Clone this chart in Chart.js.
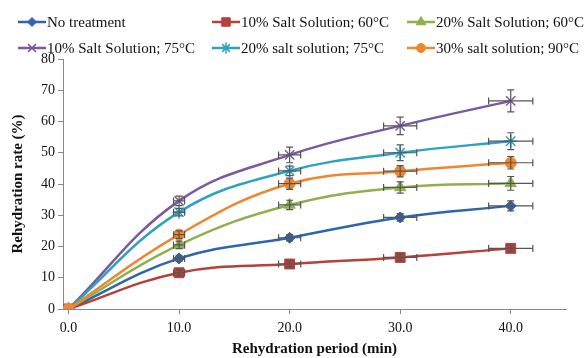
<!DOCTYPE html>
<html>
<head>
<meta charset="utf-8">
<script src="https://cdn.jsdelivr.net/npm/chart.js@4"></script>
<style>
  body { margin: 0; background: #fff; }
  #wrap { width: 588px; height: 358px; }
</style>
</head>
<body>
<div id="wrap"><canvas id="chart" width="588" height="358"></canvas></div>
<script>
// data
const periods = [0, 10, 20, 30, 40];
const xTicks = [0, 10, 20, 30, 40];
const seriesNames = [
    'No treatment',
    '10% Salt Solution; 60°C',
    '20% Salt Solution; 60°C',
    '10% Salt Solution; 75°C',
    '20% salt solution; 75°C',
    '30% salt solution; 90°C'
];
const noTreatment = [0, 16.2, 22.8, 29.3, 33.0];
const salt10at60 = [0, 11.6, 14.4, 16.5, 19.4];
const salt20at60 = [0, 20.5, 33.3, 38.9, 40.2];
const salt10at75 = [0, 34.6, 49.3, 58.6, 66.6];
const salt20at75 = [0, 31.0, 44.2, 50.0, 53.7];
const salt30at90 = [0, 23.8, 40.1, 44.1, 46.8];

// error bars (vertical on rate, horizontal on period)
const xErr = [0, 0.5, 1.0, 1.5, 2.0];
const yErrNoTreatment = [0, 1.0, 1.0, 1.2, 1.6];
const yErrSalt10at60 = [0, 1.0, 1.0, 1.0, 1.0];
const yErrSalt20at60 = [0, 1.2, 1.5, 1.8, 2.2];
const yErrSalt10at75 = [0, 1.5, 2.5, 2.8, 3.5];
const yErrSalt20at75 = [0, 1.2, 1.5, 2.5, 2.7];
const yErrSalt30at90 = [0, 1.2, 1.8, 1.8, 2.0];

const app = {};

app.colors = ['#2f65ad', '#b6403a', '#8fb04a', '#7a5a9e', '#2fa2c0', '#f0872f'];
app.markers = ['rectRot', 'rect', 'triangle', 'crossRot', 'star', 'circle'];
app.markerSizes = [5.5, 7, 6.5, 6.5, 6.5, 5.5];
app.values = [noTreatment, salt10at60, salt20at60, salt10at75, salt20at75, salt30at90];
app.yErrors = [yErrNoTreatment, yErrSalt10at60, yErrSalt20at60, yErrSalt10at75, yErrSalt20at75, yErrSalt30at90];
app.font = "'Liberation Serif', 'Times New Roman', serif";

app.datasets = app.values.map((vals, i) => ({
    label: seriesNames[i],
    data: vals.map((v, j) => ({ x: periods[j], y: v })),
    yErr: app.yErrors[i],
    borderColor: app.colors[i],
    backgroundColor: app.colors[i],
    borderWidth: 2.5,
    pointStyle: app.markers[i],
    pointRadius: app.markerSizes[i],
    pointBorderWidth: (app.markers[i] === 'crossRot' || app.markers[i] === 'star') ? 1.5 : 1,
    tension: 0.4,
    fill: false,
    order: 5 - i
}));

// error bars drawn with the chart's scales
app.errorBars = {
    id: 'errorBars',
    afterDatasetsDraw(chart) {
        const ctx = chart.ctx;
        const xs = chart.scales.x;
        const ys = chart.scales.y;
        ctx.save();
        ctx.strokeStyle = '#555';
        ctx.lineWidth = 1.2;
        chart.data.datasets.forEach((ds) => {
            ds.data.forEach((p, j) => {
                const cx = xs.getPixelForValue(p.x);
                const cy = ys.getPixelForValue(p.y);
                const ex = xErr[j];
                const ey = ds.yErr[j];
                if (ey > 0) {
                    const top = ys.getPixelForValue(p.y + ey);
                    const bot = ys.getPixelForValue(p.y - ey);
                    ctx.beginPath();
                    ctx.moveTo(cx, top); ctx.lineTo(cx, bot);
                    ctx.moveTo(cx - 3.5, top); ctx.lineTo(cx + 3.5, top);
                    ctx.moveTo(cx - 3.5, bot); ctx.lineTo(cx + 3.5, bot);
                    ctx.stroke();
                }
                if (ex > 0) {
                    const l = xs.getPixelForValue(p.x - ex);
                    const r = xs.getPixelForValue(p.x + ex);
                    ctx.beginPath();
                    ctx.moveTo(l, cy); ctx.lineTo(r, cy);
                    ctx.moveTo(l, cy - 3.5); ctx.lineTo(l, cy + 3.5);
                    ctx.moveTo(r, cy - 3.5); ctx.lineTo(r, cy + 3.5);
                    ctx.stroke();
                }
            });
        });
        ctx.restore();
    }
};

// legend in fixed columns like the original
app.legend = {
    id: 'fixedLegend',
    afterDraw(chart) {
        const ctx = chart.ctx;
        const cols = [18, 212, 407];
        const rows = [22, 48];
        ctx.save();
        ctx.font = '15px ' + app.font;
        ctx.textBaseline = 'middle';
        chart.data.datasets.forEach((ds, i) => {
            const x = cols[i % 3];
            const y = rows[Math.floor(i / 3)];
            ctx.strokeStyle = ds.borderColor;
            ctx.lineWidth = 2.5;
            ctx.beginPath();
            ctx.moveTo(x, y); ctx.lineTo(x + 28, y);
            ctx.stroke();
            ctx.fillStyle = ds.backgroundColor;
            ctx.lineWidth = ds.pointBorderWidth;
            Chart.helpers.drawPoint(ctx, { pointStyle: ds.pointStyle, radius: ds.pointRadius - 1, rotation: 0, borderWidth: ds.pointBorderWidth }, x + 14, y);
            ctx.fillStyle = '#111';
            ctx.fillText(ds.label, x + 29, y + 1);
        });
        ctx.restore();
    }
};

app.config = {
    type: 'line',
    data: { datasets: app.datasets },
    options: {
        responsive: false,
        animation: false,
        layout: { padding: { top: 59, right: 22, left: 0, bottom: 0 } },
        plugins: { legend: { display: false }, tooltip: { enabled: false } },
        scales: {
            x: {
                type: 'linear',
                min: -0.5,
                max: 45,
                afterBuildTicks: (scale) => { scale.ticks = xTicks.map(v => ({ value: v })); },
                afterFit: (scale) => { scale.height = 49; },
                ticks: {
                    callback: (v) => Number(v).toFixed(1),
                    color: '#111',
                    font: { family: app.font, size: 14 },
                    padding: 6,
                    maxRotation: 0
                },
                grid: { drawOnChartArea: false, drawTicks: true, tickLength: 5, color: '#888' },
                border: { color: '#888', width: 1 },
                title: {
                    display: true,
                    text: 'Rehydration period (min)',
                    color: '#111',
                    font: { family: app.font, size: 15, weight: 'bold' },
                    padding: { top: 0, bottom: 0 }
                }
            },
            y: {
                min: 0,
                max: 80,
                afterFit: (scale) => { scale.width = 63; },
                ticks: {
                    stepSize: 10,
                    color: '#111',
                    font: { family: app.font, size: 14 },
                    padding: 3
                },
                grid: { drawOnChartArea: false, drawTicks: true, tickLength: 5, color: '#888' },
                border: { color: '#888', width: 1 },
                title: {
                    display: true,
                    text: 'Rehydration rate (%)',
                    color: '#111',
                    font: { family: app.font, size: 15, weight: 'bold' },
                    padding: { top: 9, bottom: 0 }
                }
            }
        }
    },
    plugins: [app.errorBars, app.legend]
};

app.init = () => {
    new Chart(document.getElementById('chart'), app.config);
};

app.init();
</script>
</body>
</html>
